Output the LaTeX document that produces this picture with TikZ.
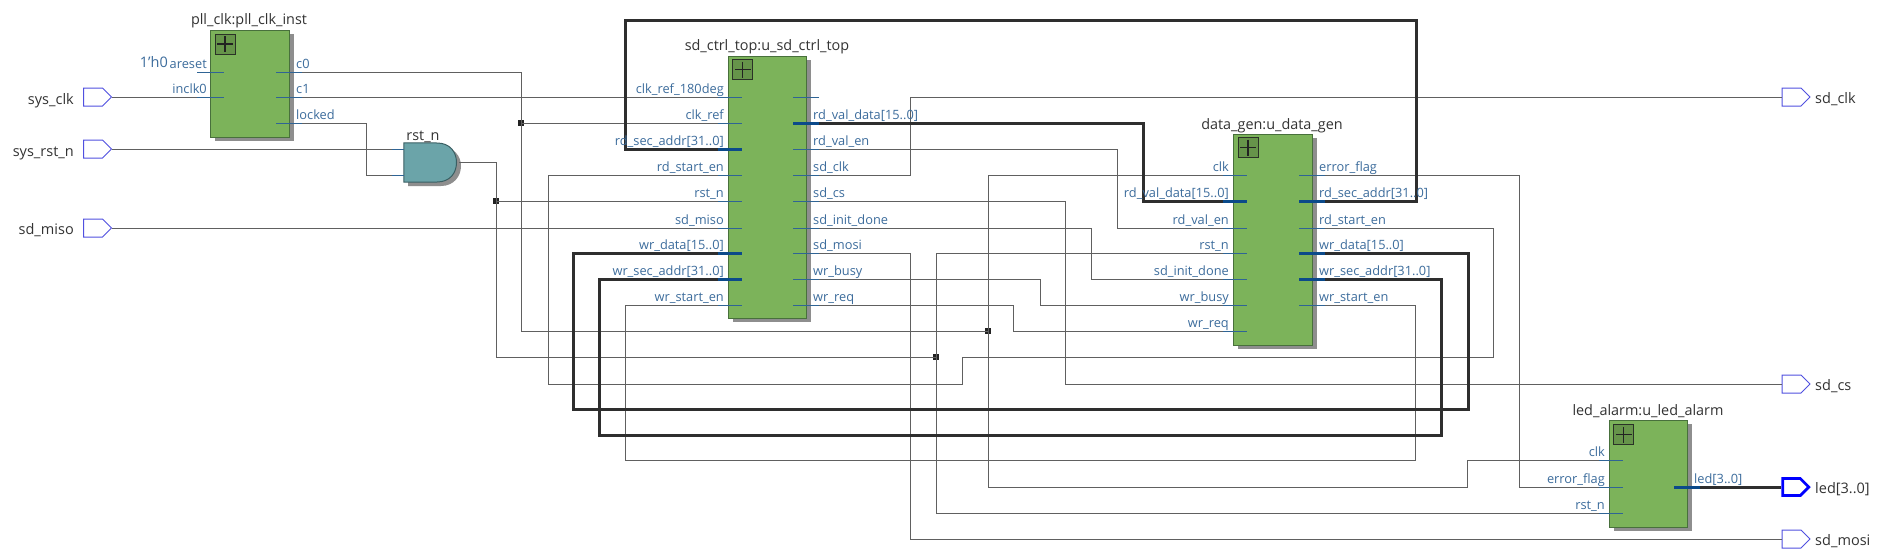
\documentclass[tikz,border=0pt]{standalone}
\usepackage{fontspec}
\setmainfont{Open Sans}
\usetikzlibrary{shapes.symbols,shadows,calc}
\definecolor{wirec}{HTML}{606060}
\definecolor{busc}{HTML}{2E2E2E}
\definecolor{stubc}{HTML}{2F6495}
\definecolor{bstubc}{HTML}{0B4A8A}
\definecolor{pinc}{HTML}{3C6C9C}
\definecolor{namec}{HTML}{333333}
\definecolor{blockc}{HTML}{7CB35A}
\definecolor{blockb}{HTML}{48703C}
\definecolor{plusc}{HTML}{66944A}
\definecolor{gatec}{HTML}{6BA4A9}
\definecolor{gateb}{HTML}{3A5F63}
\definecolor{shadc}{HTML}{8E8E8E}
\definecolor{portc}{HTML}{5050E0}
\definecolor{dotc}{HTML}{222222}
\tikzset{
  wire/.style={draw=wirec,line width=1pt},
  bus/.style={draw=busc,line width=3pt,line join=miter},
  thinstub/.style={draw=stubc,line width=1pt},
  busstub/.style={draw=bstubc,line width=3pt},
  pintext/.style={font=\fontsize{12.8}{14}\selectfont,text=pinc,inner sep=0pt},
  blocktitle/.style={font=\fontsize{14.4}{16}\selectfont,text=namec,inner sep=0pt,anchor=base},
  porttext/.style={font=\fontsize{14.5}{16}\selectfont,text=namec,inner sep=0pt},
  blockbox/.style={draw=blockb,line width=1pt,fill=blockc,inner sep=0pt,
    general shadow={shadow xshift=5pt,shadow yshift=-4pt,fill=shadc}},
  plusbox/.style={draw=dotc!80!blockb,line width=.8pt,fill=plusc,minimum size=20pt,inner sep=0pt},
  plusline/.style={draw=dotc,line width=1.8pt},
  portbox/.style={signal,signal to=east,draw=portc,line width=1pt,fill=white,
    minimum width=28pt,minimum height=18pt,inner sep=0pt},
  portbus/.style={portbox,draw=blue,line width=2.8pt,minimum width=26pt,minimum height=17pt},
  junction/.style={fill=dotc,inner sep=0pt,minimum size=5.5pt}
}
% left pin: [stub style]{name}{block left x}{y}{text}
\newcommand{\pinL}[5][thinstub]{%
  \coordinate (#2) at (#3-10,#4);
  \draw[#1] (#2) -- (#3+14,#4);
  \node[pintext,anchor=base east] (#2T) at (#3-4,#4-3.5) {#5};
}
\newcommand{\pinR}[5][thinstub]{%
  \coordinate (#2) at (#3+13,#4);
  \draw[#1] (#2) -- (#3-13,#4);
  \node[pintext,anchor=base west] (#2T) at (#3+7,#4-3.5) {#5};
}
\newcommand{\plusmark}[3]{%
  \node[plusbox] (#1) at (#2,#3) {};
  \draw[plusline] (#1.center)++(-8,0) -- ++(16,0) (#1.center)++(0,-8) -- ++(0,16);
}
\begin{document}
\begin{tikzpicture}[x=1pt,y=-1pt]
\useasboundingbox[fill=white] (0,0) rectangle (1880,557);

% blocks
\node[blockbox,minimum width=79pt,minimum height=107pt] (pll) at (249.5,83.5) {};
\node[blockbox,minimum width=78pt,minimum height=262pt] (ctrl) at (767,187) {};
\node[blockbox,minimum width=79pt,minimum height=211pt] (dgen) at (1272.5,239.5) {};
\node[blockbox,minimum width=78pt,minimum height=107pt] (led) at (1648,473.5) {};
\plusmark{pllp}{225}{44}
\plusmark{ctrlp}{742.5}{69.5}
\plusmark{dgenp}{1248}{147.5}
\plusmark{ledp}{1623.5}{434.5}
\node[blocktitle] (pllT) at (249,24) {pll\_clk:pll\_clk\_inst};
\node[blocktitle] (ctrlT) at (767,50) {sd\_ctrl\_top:u\_sd\_ctrl\_top};
\node[blocktitle] (dgenT) at (1272,129) {data\_gen:u\_data\_gen};
\node[blocktitle] (ledT) at (1648,415) {led\_alarm:u\_led\_alarm};

% gate
\fill[shadc] (408,147) -- (441,147) .. controls (454,147) and (461,156) .. (461,166) .. controls (461,176) and (454,186) .. (441,186) -- (408,186) -- cycle;
\node[inner sep=0pt,minimum width=52pt,minimum height=39pt] (gate) at (430,162.5) {};
\draw[draw=gateb,line width=1pt,fill=gatec] (gate.north west) -- (437,143) .. controls (450,143) and (456.5,152) .. (456.5,162.5) .. controls (456.5,173) and (450,182) .. (437,182) -- (gate.south west) -- cycle;
\node[blocktitle] (gateT) at (423,140) {rst\_n};
\coordinate (ga) at (392,149);
\coordinate (gb) at (392,175);
\coordinate (gout) at (459,162);

% wires (drawn before the stubs)
\node[portbox] (sysclk) at (93,97) {};
\node[portbox] (sysrst) at (93,149) {};
\node[portbox] (miso) at (93,228) {};
\node[portbox] (osdclk) at (1791.5,97) {};
\node[portbox] (osdcs) at (1791.5,384) {};
\node[portbus] (oled) at (1791.5,487) {};
\node[portbox] (osdmosi) at (1791.5,539) {};
\node[porttext,anchor=base east] (sysclkT) at (74,104) {sys\_clk};
\node[porttext,anchor=base east] (sysrstT) at (74,156) {sys\_rst\_n};
\node[porttext,anchor=base east] (misoT) at (74,234.5) {sd\_miso};
\node[porttext,anchor=base west] (osdclkT) at (1815,103) {sd\_clk};
\node[porttext,anchor=base west] (osdcsT) at (1815,390) {sd\_cs};
\node[porttext,anchor=base west] (oledT) at (1815,493) {led[3..0]};
\node[porttext,anchor=base west] (osdmosiT) at (1815,545) {sd\_mosi};
\node[pintext,font=\fontsize{14.5}{16}\selectfont,anchor=base east] (consT) at (168,67) {1'h0};

\node[junction] (j1) at (521,123) {};
\node[junction] (j2) at (496,201) {};
\node[junction] (j3) at (988,331) {};
\node[junction] (j4) at (936,357) {};

\coordinate (pc0) at (302,72);
\coordinate (pc1) at (302,97);
\coordinate (plk) at (302,123);

\coordinate (cclk180) at (718,97);
\coordinate (cclkref) at (718,123);
\coordinate (crdaddr) at (718,149);
\coordinate (crdstart) at (718,175);
\coordinate (crst) at (718,201);
\coordinate (cmiso) at (718,228);
\coordinate (cwrdata) at (718,253);
\coordinate (cwraddr) at (718,279);
\coordinate (cwrstart) at (718,305);
\coordinate (crdval) at (819,123);
\coordinate (crdvalen) at (819,149);
\coordinate (csdclk) at (819,175);
\coordinate (csdcs) at (819,201);
\coordinate (cinit) at (819,228);
\coordinate (cmosi) at (819,253);
\coordinate (cbusy) at (819,279);
\coordinate (creq) at (819,305);
\coordinate (dclk) at (1223,175);
\coordinate (drdval) at (1223,201);
\coordinate (drdvalen) at (1223,228);
\coordinate (drst) at (1223,253);
\coordinate (dinit) at (1223,279);
\coordinate (dbusy) at (1223,305);
\coordinate (dreq) at (1223,331);
\coordinate (derr) at (1325,175);
\coordinate (drdaddr) at (1325,201);
\coordinate (drdstart) at (1325,228);
\coordinate (dwrdata) at (1325,253);
\coordinate (dwraddr) at (1325,279);
\coordinate (dwrstart) at (1325,305);
\coordinate (lclk) at (1599,460);
\coordinate (lerr) at (1599,487);
\coordinate (lrst) at (1599,513);
\coordinate (lled) at (1700,487);
\coordinate (pin) at (197,97);

% thin nets
\draw[wire] (sysclk.east) -- (pin);
\draw[wire] (sysrst.east) -- (ga);
\draw[wire] (miso.east) -- (cmiso);
\draw[wire] (pc1) -- (cclk180);
\draw[wire] (plk) -| (366,175) -- (gb);
\draw[wire] (gout) -| (j2.center) -- (crst);
\draw[wire] (j2.center) |- (j4.center);
\draw[wire] (j4.center) |- (drst);
\draw[wire] (j4.center) |- (lrst);
\draw[wire] (pc0) -| (j1.center) -- (cclkref);
\draw[wire] (j1.center) |- (j3.center);
\draw[wire] (j3.center) |- (dclk);
\draw[wire] (j3.center) |- (1467,487) |- (lclk);
\draw[wire] (csdclk) -| (910,97) -- (osdclk.west);
\draw[wire] (cmosi) -| (910,539) -- (osdmosi.west);
\draw[wire] (csdcs) -| (1065,384) -- (osdcs.west);
\draw[wire] (crdvalen) -| (1117,228) -- (drdvalen);
\draw[wire] (cinit) -| (1091.5,279) -- (dinit);
\draw[wire] (cbusy) -| (1040,305) -- (dbusy);
\draw[wire] (creq) -| (1013,331) -- (dreq);
\draw[wire] (derr) -| (1519,487) -- (lerr);
\draw[wire] (drdstart) -| (1493,357) -| (962,384) -| (548,175) -- (crdstart);
\draw[wire] (dwrstart) -| (1415,460) -| (625,305) -- (cwrstart);
% buses
\draw[bus] (crdval) -| (1143,201) -- (drdval);
\draw[bus] (drdaddr) -| (1416,20) -| (625,149) -- (crdaddr);
\draw[bus] (dwrdata) -| (1468,409) -| (573,253) -- (cwrdata);
\draw[bus] (dwraddr) -| (1441,435) -| (599,279) -- (cwraddr);
\draw[bus] (lled) -- (oled.west);

% pins
\draw[thinstub] (ga) -- (gate.west |- ga);
\draw[thinstub] (gb) -- (gate.west |- gb);
\draw[thinstub] (197,72) -- (224,72);
\draw[thinstub] (pin) -- (224,97);
\node[pintext,anchor=base east] (pa) at (207,68) {areset};
\node[pintext,anchor=base east] (pi) at (207,93) {inclk0};
\draw[thinstub] (pc0) -- (276,72);
\draw[thinstub] (pc1) -- (276,97);
\draw[thinstub] (plk) -- (276,123);
\node[pintext,anchor=base west] (p0) at (296,68) {c0};
\node[pintext,anchor=base west] (p1) at (296,93) {c1};
\node[pintext,anchor=base west] (p2) at (296,119) {locked};

\pinL{xa}{728}{97}{clk\_ref\_180deg}
\pinL{xb}{728}{123}{clk\_ref}
\pinL[busstub]{xc}{728}{149}{rd\_sec\_addr[31..0]}
\pinL{xd}{728}{175}{rd\_start\_en}
\pinL{xe}{728}{201}{rst\_n}
\pinL{xf}{728}{228}{sd\_miso}
\pinL[busstub]{xg}{728}{253}{wr\_data[15..0]}
\pinL[busstub]{xh}{728}{279}{wr\_sec\_addr[31..0]}
\pinL{xi}{728}{305}{wr\_start\_en}
\pinR{ya}{806}{97}{}
\pinR[busstub]{yb}{806}{123}{rd\_val\_data[15..0]}
\pinR{yc}{806}{149}{rd\_val\_en}
\pinR{yd}{806}{175}{sd\_clk}
\pinR{ye}{806}{201}{sd\_cs}
\pinR{yf}{806}{228}{sd\_init\_done}
\pinR{yg}{806}{253}{sd\_mosi}
\pinR{yh}{806}{279}{wr\_busy}
\pinR{yi}{806}{305}{wr\_req}

\pinL{za}{1233}{175}{clk}
\pinL[busstub]{zb}{1233}{201}{rd\_val\_data[15..0]}
\pinL{zc}{1233}{228}{rd\_val\_en}
\pinL{zd}{1233}{253}{rst\_n}
\pinL{ze}{1233}{279}{sd\_init\_done}
\pinL{zf}{1233}{305}{wr\_busy}
\pinL{zg}{1233}{331}{wr\_req}
\pinR{wa}{1312}{175}{error\_flag}
\pinR[busstub]{wb}{1312}{201}{rd\_sec\_addr[31..0]}
\pinR{wc}{1312}{228}{rd\_start\_en}
\pinR[busstub]{wd}{1312}{253}{wr\_data[15..0]}
\pinR[busstub]{we}{1312}{279}{wr\_sec\_addr[31..0]}
\pinR{wf}{1312}{305}{wr\_start\_en}

\pinL{ua}{1609}{460}{clk}
\pinL{ub}{1609}{487}{error\_flag}
\pinL{uc}{1609}{513}{rst\_n}
\pinR[busstub]{va}{1687}{487}{led[3..0]}
\end{tikzpicture}
\end{document}
